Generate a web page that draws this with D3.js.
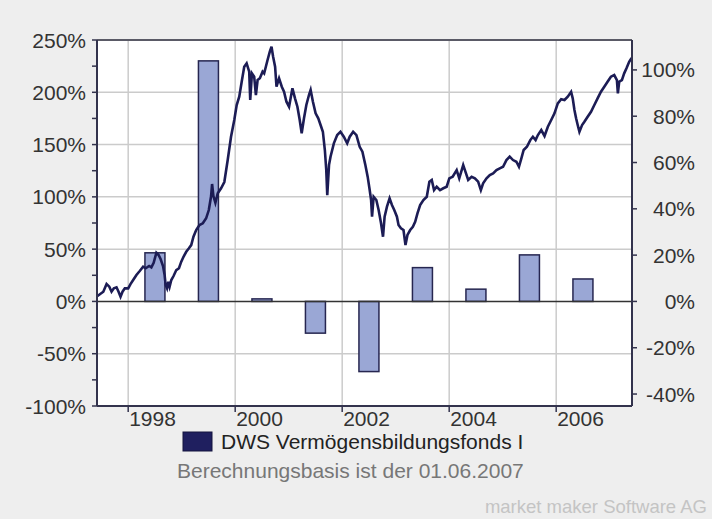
<!DOCTYPE html>
<html lang="de">
<head>
  <meta charset="UTF-8" />
  <title>DWS Vermögensbildungsfonds I</title>
  <script src="https://d3js.org/d3.v7.min.js"></script>
  <style>
    body {
      margin: 0;
      background: #eeeeee;
      overflow: hidden;
    }
    svg text {
      font-family: "Liberation Sans", Arial, sans-serif;
    }
    .tick-label {
      font-size: 21px;
      fill: #333;
    }
  </style>
</head>
<body>
  <script>
    // Annual returns (right axis), calendar years
    const barYears = [1998, 1999, 2000, 2001, 2002, 2003, 2004, 2005, 2006];
    const barValues = [21.0, 103.9, 1.1, -13.7, -30.3, 14.6, 5.3, 20.1, 9.7];

    // Cumulative performance (left axis)
    const lineDates = [
      1997.42, 1997.535, 1997.596, 1997.647, 1997.689, 1997.732, 1997.782, 1997.82, 1997.857, 1997.894,
      1997.937, 1998.0, 1998.043, 1998.093, 1998.154, 1998.216, 1998.279, 1998.327, 1998.391, 1998.433,
      1998.476, 1998.527, 1998.569, 1998.607, 1998.651, 1998.681, 1998.7, 1998.726, 1998.75, 1998.774,
      1998.806, 1998.848, 1998.899, 1998.949, 1998.992, 1999.034, 1999.085, 1999.135, 1999.178, 1999.22,
      1999.271, 1999.332, 1999.395, 1999.457, 1999.507, 1999.55, 1999.568, 1999.593, 1999.63, 1999.674,
      1999.736, 1999.797, 1999.86, 1999.922, 1999.983, 2000.028, 2000.076, 2000.127, 2000.169, 2000.214,
      2000.262, 2000.281, 2000.313, 2000.355, 2000.387, 2000.419, 2000.461, 2000.512, 2000.541, 2000.573,
      2000.605, 2000.647, 2000.679, 2000.709, 2000.746, 2000.772, 2000.82, 2000.871, 2000.913, 2000.958,
      2001.007, 2001.07, 2001.118, 2001.163, 2001.206, 2001.243, 2001.286, 2001.33, 2001.379, 2001.41,
      2001.453, 2001.503, 2001.553, 2001.596, 2001.639, 2001.676, 2001.702, 2001.721, 2001.754, 2001.782,
      2001.844, 2001.907, 2001.968, 2002.03, 2002.093, 2002.141, 2002.205, 2002.266, 2002.327, 2002.378,
      2002.433, 2002.476, 2002.514, 2002.54, 2002.558, 2002.588, 2002.638, 2002.681, 2002.726, 2002.763,
      2002.793, 2002.837, 2002.886, 2002.93, 2002.973, 2003.023, 2003.053, 2003.098, 2003.146, 2003.183,
      2003.22, 2003.271, 2003.321, 2003.364, 2003.407, 2003.457, 2003.518, 2003.581, 2003.63, 2003.674,
      2003.717, 2003.767, 2003.829, 2003.89, 2003.953, 2004.002, 2004.065, 2004.14, 2004.188, 2004.262,
      2004.294, 2004.355, 2004.419, 2004.48, 2004.541, 2004.592, 2004.634, 2004.698, 2004.759, 2004.821,
      2004.884, 2004.945, 2005.007, 2005.07, 2005.131, 2005.193, 2005.256, 2005.304, 2005.349, 2005.392,
      2005.453, 2005.516, 2005.564, 2005.615, 2005.658, 2005.721, 2005.782, 2005.844, 2005.907, 2005.968,
      2006.03, 2006.093, 2006.155, 2006.216, 2006.279, 2006.309, 2006.341, 2006.372, 2006.402, 2006.434,
      2006.484, 2006.527, 2006.588, 2006.651, 2006.713, 2006.774, 2006.837, 2006.899, 2006.96, 2007.023,
      2007.085, 2007.135, 2007.153, 2007.178, 2007.228, 2007.271, 2007.314, 2007.364, 2007.41
    ];
    const lineValues = [
      5, 9.3, 16.6, 14.1, 9.3, 12.5, 13.5, 9.3, 4.5, 9.3,
      12.5, 12.5, 16.6, 20.5, 25.3, 29.1, 33.2, 31.7, 33.9, 32.6,
      37.0, 46.6, 44.4, 40.3, 33.9, 25.2, 15.7, 12.5, 18.8, 14.1,
      20.5, 24.3, 30.0, 31.7, 38.0, 42.7, 47.5, 50.8, 53.9, 61.9,
      68.3, 73.1, 74.7, 79.5, 87.4, 100.8, 112.3, 100.8, 94.4, 103.4,
      108.2, 114.2, 135.2, 157.5, 173.5, 187.8, 195.8, 211.7, 224.4, 227.7,
      219.7, 192.6, 218.1, 214.9, 197.4, 211.7, 213.4, 219.7, 218.1, 224.4,
      230.9, 238.8, 243.6, 234.0, 224.4, 205.3, 213.3, 205.3, 200.5, 191.0,
      186.2, 203.8, 194.2, 186.2, 173.5, 160.8, 175.1, 187.8, 197.4, 202.2,
      191.0, 179.9, 175.1, 168.7, 162.3, 144.8, 125.7, 101.6, 130.6, 138.4,
      151.2, 159.1, 162.3, 157.5, 151.2, 157.5, 162.3, 159.1, 147.9, 143.2,
      130.4, 119.3, 106.5, 97.0, 81.0, 100.1, 97.0, 87.4, 74.7, 61.9,
      81.0, 90.6, 98.6, 92.2, 87.4, 81.0, 73.1, 69.9, 68.3, 53.9,
      63.6, 68.3, 71.4, 76.2, 84.2, 92.2, 97.0, 100.1, 114.5, 116.1,
      106.5, 109.7, 106.5, 108.2, 109.7, 117.7, 119.2, 125.6, 117.7, 130.4,
      125.6, 116.1, 119.2, 117.7, 114.5, 106.5, 112.9, 117.7, 120.9, 122.5,
      125.6, 127.3, 128.8, 135.2, 138.4, 135.2, 133.6, 128.8, 136.8, 144.8,
      147.9, 154.3, 157.5, 154.3, 159.1, 163.9, 158.2, 167.1, 173.5, 179.9,
      189.4, 193.3, 192.6, 195.8, 200.5, 194.2, 183.0, 175.1, 168.7, 162.3,
      168.7, 171.8, 176.6, 181.4, 187.8, 194.2, 200.5, 205.3, 210.1, 214.9,
      216.5, 211.7, 199.0, 210.1, 211.7, 218.1, 222.9, 229.2, 232.8
    ];

    const xTickYears = [1998, 2000, 2002, 2004, 2006];
    const leftTicks = [-100, -50, 0, 50, 100, 150, 200, 250];
    const leftMinorTicks = [-75, -25, 25, 75, 125, 175, 225];
    const rightTicks = [-40, -20, 0, 20, 40, 60, 80, 100];

    const seriesName = "DWS Vermögensbildungsfonds I";
    const noteText = "Berechnungsbasis ist der 01.06.2007";
    const creditText = "market maker Software AG";

    const width = 712, height = 519;
    const plot = { left: 97, right: 632, top: 40, bottom: 406 };

    const svg = d3.select("body").append("svg")
      .attr("width", width)
      .attr("height", height);

    const x = d3.scaleLinear().domain([1997.417, 2007.417]).range([plot.left, plot.right]);
    const yL = d3.scaleLinear().domain([-100, 250]).range([plot.bottom, plot.top]);
    // right axis shares zero with left, scaled down
    const yR = d3.scaleLinear().domain([-100 / 2.214, 250 / 2.214]).range([plot.bottom, plot.top]);

    // plot background
    svg.append("rect")
      .attr("x", plot.left).attr("y", plot.top)
      .attr("width", plot.right - plot.left).attr("height", plot.bottom - plot.top)
      .attr("fill", "#fff");

    // grid
    svg.append("g").selectAll("line")
      .data(leftTicks.filter(d => d !== 0 && d !== -100 && d !== 250))
      .join("line")
      .attr("x1", plot.left).attr("x2", plot.right)
      .attr("y1", d => yL(d)).attr("y2", d => yL(d))
      .attr("stroke", "#cbcbcb").attr("stroke-width", 1.5);

    svg.append("g").selectAll("line")
      .data(xTickYears)
      .join("line")
      .attr("x1", d => x(d)).attr("x2", d => x(d))
      .attr("y1", plot.top).attr("y2", plot.bottom)
      .attr("stroke", "#cbcbcb").attr("stroke-width", 1.5);

    // bars
    const barW = 20;
    svg.append("g").selectAll("rect")
      .data(barYears.map((yr, i) => ({ yr, v: barValues[i] })))
      .join("rect")
      .attr("x", d => x(d.yr + 0.5) - barW / 2)
      .attr("width", barW)
      .attr("y", d => Math.min(yR(d.v), yR(0)))
      .attr("height", d => Math.abs(yR(d.v) - yR(0)))
      .attr("fill", "#9aa7d5")
      .attr("stroke", "#262650")
      .attr("stroke-width", 1.5);

    // zero line
    svg.append("line")
      .attr("x1", plot.left).attr("x2", plot.right)
      .attr("y1", yL(0)).attr("y2", yL(0))
      .attr("stroke", "#333").attr("stroke-width", 1.5);

    // performance line
    const line = d3.line()
      .x((d, i) => x(lineDates[i]))
      .y(d => yL(d));

    svg.append("path")
      .datum(lineValues)
      .attr("d", line)
      .attr("fill", "none")
      .attr("stroke", "#1c1c55")
      .attr("stroke-width", 2.6)
      .attr("stroke-linejoin", "miter");

    // frame
    svg.append("line")
      .attr("x1", plot.left).attr("x2", plot.right)
      .attr("y1", plot.top).attr("y2", plot.top)
      .attr("stroke", "#5a5a66").attr("stroke-width", 2);

    // left axis
    const leftAxis = svg.append("g");
    leftAxis.append("line")
      .attr("x1", plot.left).attr("x2", plot.left)
      .attr("y1", plot.top).attr("y2", plot.bottom)
      .attr("stroke", "#33334d").attr("stroke-width", 2);
    leftAxis.selectAll(".tk")
      .data(leftTicks.concat(leftMinorTicks))
      .join("line")
      .attr("x1", plot.left - 5).attr("x2", plot.left)
      .attr("y1", d => yL(d)).attr("y2", d => yL(d))
      .attr("stroke", "#33334d").attr("stroke-width", 1.5);
    leftAxis.selectAll("text")
      .data(leftTicks)
      .join("text")
      .attr("class", "tick-label")
      .attr("x", 86)
      .attr("y", d => yL(d))
      .attr("dy", "0.36em")
      .attr("text-anchor", "end")
      .text(d => d + "%");

    // right axis
    const rightAxis = svg.append("g");
    rightAxis.append("line")
      .attr("x1", plot.right).attr("x2", plot.right)
      .attr("y1", plot.top).attr("y2", plot.bottom)
      .attr("stroke", "#33334d").attr("stroke-width", 2);
    rightAxis.selectAll(".tk")
      .data(rightTicks)
      .join("line")
      .attr("x1", plot.right).attr("x2", plot.right + 5)
      .attr("y1", d => yR(d)).attr("y2", d => yR(d))
      .attr("stroke", "#33334d").attr("stroke-width", 1.5);
    rightAxis.selectAll("text")
      .data(rightTicks)
      .join("text")
      .attr("class", "tick-label")
      .attr("x", 695)
      .attr("y", d => yR(d))
      .attr("dy", "0.36em")
      .attr("text-anchor", "end")
      .text(d => d + "%");

    // bottom axis
    const bottomAxis = svg.append("g");
    bottomAxis.append("line")
      .attr("x1", plot.left).attr("x2", plot.right)
      .attr("y1", plot.bottom).attr("y2", plot.bottom)
      .attr("stroke", "#33334d").attr("stroke-width", 2);
    bottomAxis.selectAll(".tk")
      .data(xTickYears)
      .join("line")
      .attr("x1", d => x(d)).attr("x2", d => x(d))
      .attr("y1", plot.bottom).attr("y2", plot.bottom + 6)
      .attr("stroke", "#33334d").attr("stroke-width", 1.5);
    bottomAxis.selectAll("text")
      .data(xTickYears)
      .join("text")
      .attr("class", "tick-label")
      .attr("x", d => x(d) + 1)
      .attr("y", 426)
      .text(d => d);

    // legend
    svg.append("rect")
      .attr("x", 183).attr("y", 432)
      .attr("width", 29).attr("height", 19)
      .attr("fill", "#1f1f5f")
      .attr("stroke", "#15153f");
    svg.append("text")
      .attr("x", 221).attr("y", 449)
      .attr("font-size", 21)
      .attr("fill", "#222")
      .text(seriesName);

    svg.append("text")
      .attr("x", 177).attr("y", 478)
      .attr("font-size", 21)
      .attr("fill", "#777")
      .text(noteText);

    svg.append("text")
      .attr("x", 707).attr("y", 513)
      .attr("text-anchor", "end")
      .attr("font-size", 18.5)
      .attr("fill", "#c4c4c4")
      .text(creditText);
  </script>
</body>
</html>
